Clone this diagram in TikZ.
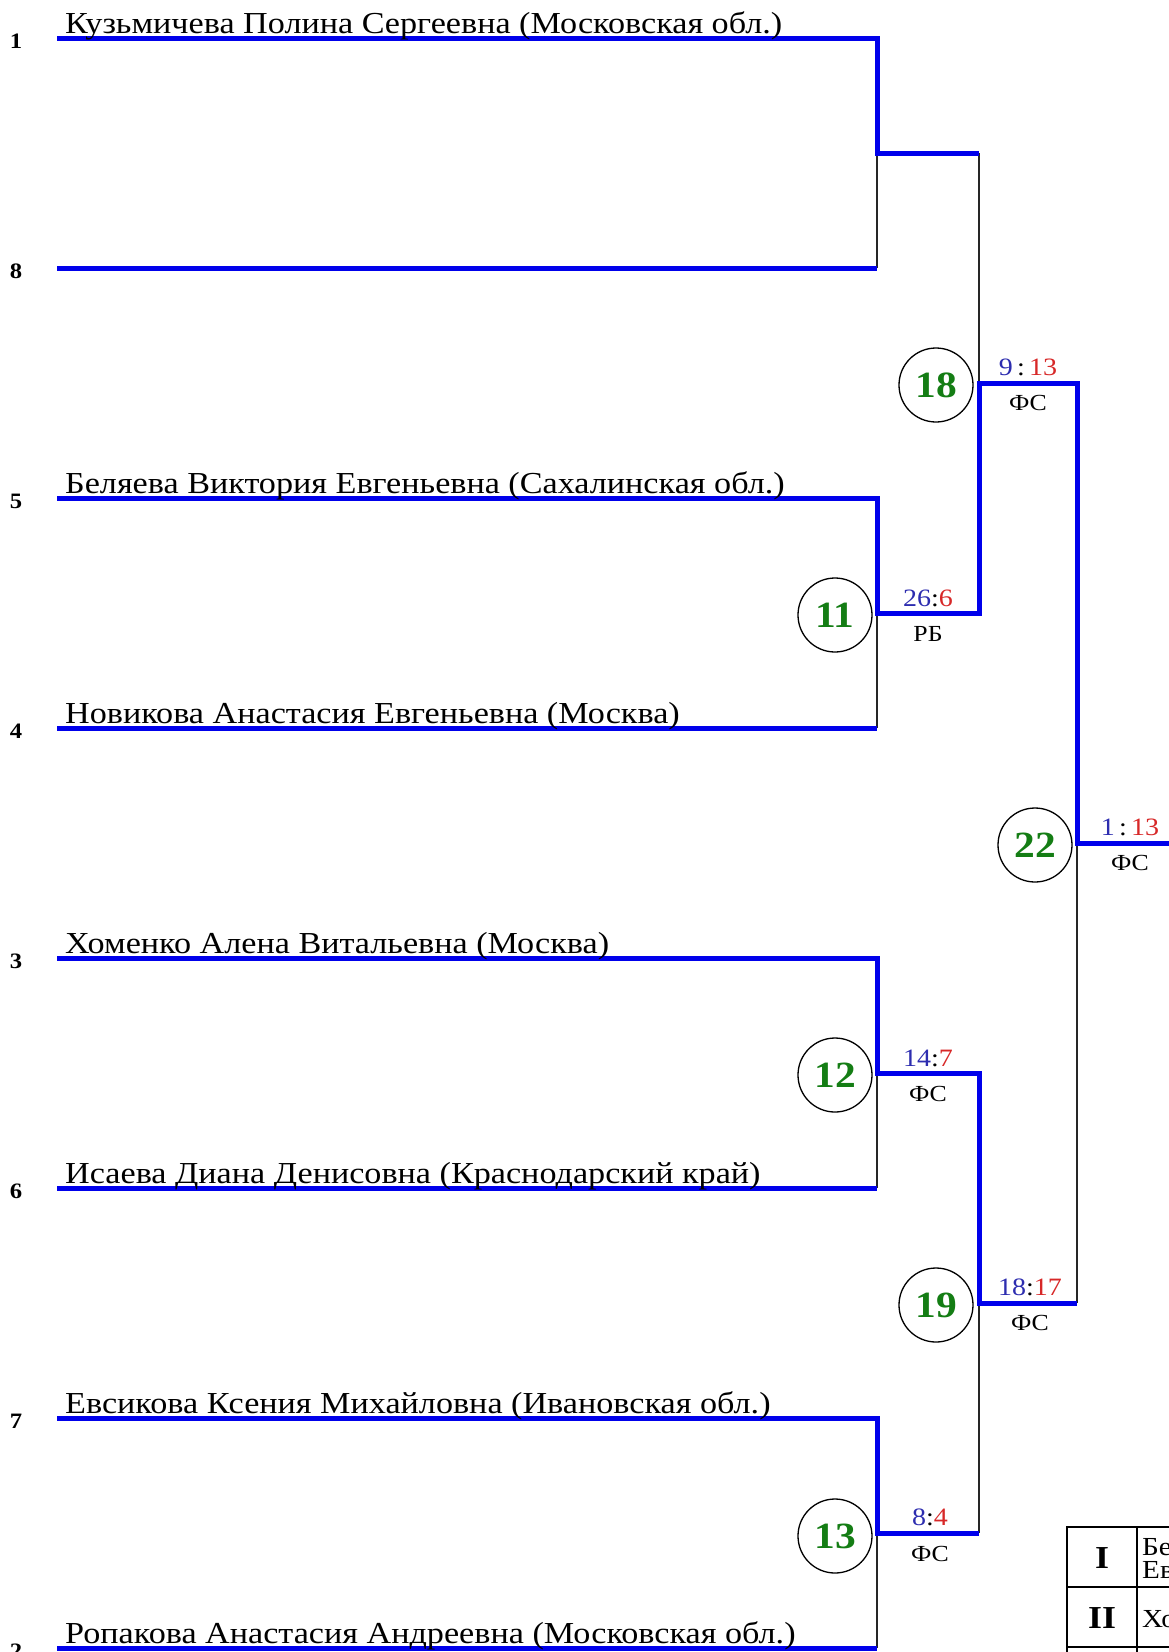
\documentclass[tikz,border=0pt]{standalone}
\usepackage{fontspec}
\setmainfont{Liberation Serif}[FakeStretch=1.12]
\definecolor{wblue}{RGB}{0,0,235}
\definecolor{sblue}{RGB}{45,45,175}
\definecolor{sred}{RGB}{215,40,40}
\definecolor{mgreen}{RGB}{20,125,20}
\tikzset{
  win/.style={line width=5pt, draw=wblue, line join=miter},
  lose/.style={line width=1.2pt, draw=black!85},
  pname/.style={anchor=base west, inner sep=0, font=\fontsize{30.5}{30}\selectfont},
  seed/.style={font=\bfseries\fontsize{22}{22}\selectfont, inner sep=0},
  match/.style={circle, draw, line width=1.3pt, minimum size=74pt, inner sep=0, text=mgreen, font=\bfseries\fontsize{37}{37}\selectfont},
  score/.style={font=\fontsize{25}{25}\selectfont, inner sep=0},
  method/.style={font=\fontsize{23}{23}\selectfont, inner sep=0},
  place/.style={font=\bfseries\fontsize{32}{32}\selectfont, inner sep=0},
  cell/.style={anchor=north west, inner sep=0, align=left, font=\fontsize{26}{22}\selectfont},
  tab/.style={line width=1.8pt, draw=black},
}
\newcommand{\mscore}[2]{{\color{sblue}#1}:{\color{sred}#2}}
\begin{document}
\begin{tikzpicture}[x=1pt,y=-1pt]
\useasboundingbox (0,0) rectangle (1169,1652);
\clip (0,0) rectangle (1169,1652);
% player line start/end coordinates
\foreach \n/\y in {1/38,8/268,5/498,4/728,3/958,6/1188,7/1418,2/1648}{
  \coordinate (s\n) at (57,\y);
  \coordinate (e\n) at (877,\y);
}
% match outputs
\coordinate (a10) at (877,153); \coordinate (b10) at (979,153);
\coordinate (a11) at (877,613); \coordinate (b11) at (979,613);
\coordinate (a12) at (877,1073); \coordinate (b12) at (979,1073);
\coordinate (a13) at (877,1533); \coordinate (b13) at (979,1533);
\coordinate (a18) at (979,383); \coordinate (b18) at (1077,383);
\coordinate (a19) at (979,1303); \coordinate (b19) at (1077,1303);
\coordinate (a22) at (1077,843); \coordinate (b22) at (1185,843);

% losing (thin) connectors
\draw[lose] (e8) -- (a10);
\draw[lose] (e4) -- (a11);
\draw[lose] (e6) -- (a12);
\draw[lose] (e2) -- (a13);
\draw[lose] (b10) -- (a18);
\draw[lose] (b13) -- (a19);
\draw[lose] (b19) -- (a22);

% winning (thick) paths
\draw[win] (s1) -- (e1) -- (a10) -- (b10);
\draw[win] (s8) -- (e8);
\draw[win] (s5) -- (e5) -- (a11) -- (b11) -- (a18) -- (b18) -- (a22) -- (b22);
\draw[win] (s4) -- (e4);
\draw[win] (s3) -- (e3) -- (a12) -- (b12) -- (a19) -- (b19);
\draw[win] (s6) -- (e6);
\draw[win] (s7) -- (e7) -- (a13) -- (b13);
\draw[win] (s2) -- (e2);

% seeds
\foreach \n/\y in {1/38,8/268,5/498,4/728,3/958,6/1188,7/1418,2/1648}{
  \node[seed] (seed\n) at (16,\y+3) {\n};
}
% names
\node[pname] (n1) at (65,33) {Кузьмичева Полина Сергеевна (Московская обл.)};
\node[pname] (n5) at (65,493) {Беляева Виктория Евгеньевна (Сахалинская обл.)};
\node[pname] (n4) at (65,723) {Новикова Анастасия Евгеньевна (Москва)};
\node[pname] (n3) at (65,953) {Хоменко Алена Витальевна (Москва)};
\node[pname] (n6) at (65,1183) {Исаева Диана Денисовна (Краснодарский край)};
\node[pname] (n7) at (65,1413) {Евсикова Ксения Михайловна (Ивановская обл.)};
\node[pname] (n2) at (65,1643) {Ропакова Анастасия Андреевна (Московская обл.)};

% match circles
\node[match] (c11) at (835,615) {11};
\node[match] (c18) at (936,385) {18};
\node[match] (c22) at (1035,845) {22};
\node[match] (c12) at (835,1075) {12};
\node[match] (c19) at (936,1305) {19};
\node[match] (c13) at (835,1536) {13};

% scores and methods
\node[score] (sc11) at (928,598) {\mscore{26}{6}};
\node[method] (mt11) at (928,634) {РБ};
\node[score] (sc18) at (1028,367) {\mscore{9\,}{\,13}};
\node[method] (mt18) at (1028,403) {ФС};
\node[score] (sc22) at (1130,827) {\mscore{1\,}{\,13}};
\node[method] (mt22) at (1130,863) {ФС};
\node[score] (sc12) at (928,1058) {\mscore{14}{7}};
\node[method] (mt12) at (928,1094) {ФС};
\node[score] (sc19) at (1030,1287) {\mscore{18}{17}};
\node[method] (mt19) at (1030,1323) {ФС};
\node[score] (sc13) at (930,1517) {\mscore{8}{4}};
\node[method] (mt13) at (930,1554) {ФС};

% results table
\draw[tab] (1200,1527) -- (1067,1527) -- (1067,1660);
\draw[tab] (1137,1527) -- (1137,1660);
\draw[tab] (1067,1587) -- (1200,1587);
\draw[tab] (1067,1647) -- (1200,1647);
\node[place] (p1) at (1102,1558) {I};
\node[place] (p2) at (1102,1618) {II};
\node[cell] (t1) at (1142,1538) {Беляева Виктория\\Евгеньевна};
\node[cell] (t2) at (1142,1610) {Хоменко Алена};
\end{tikzpicture}
\end{document}
